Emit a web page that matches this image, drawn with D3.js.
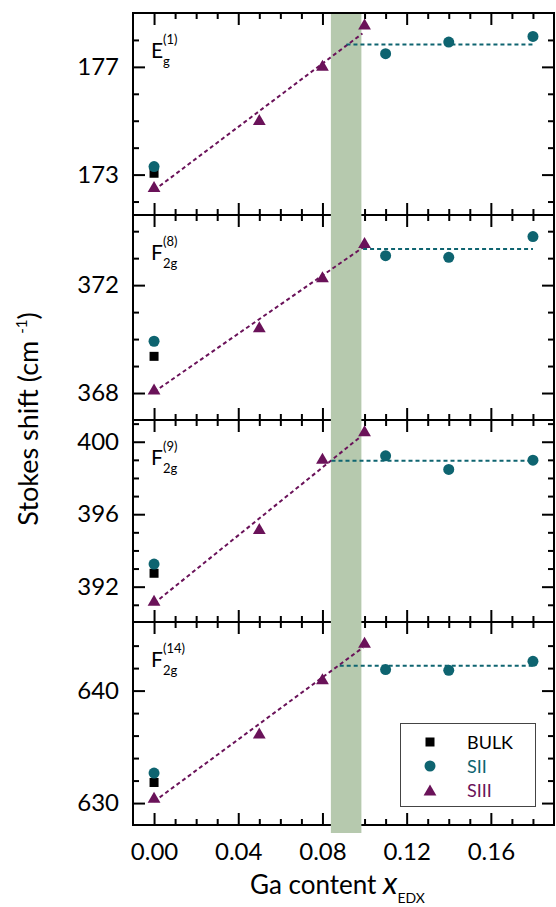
<!DOCTYPE html>
<html>
<head>
<meta charset="utf-8">
<script src="https://cdn.jsdelivr.net/npm/d3@7"></script>
<style>
  html, body { margin: 0; padding: 0; background: #fff; }
  svg { display: block; font-family: Lato, "Open Sans", sans-serif; }
</style>
</head>
<body>
<div id="chart"></div>
<script>
// =========================
// Stokes shift vs Ga content
// =========================

// -------------------------
// DATA
// -------------------------
const modeBase = ["E", "F", "F", "F"];
const modeSub = ["g", "2g", "2g", "2g"];
const modeSup = ["(1)", "(8)", "(9)", "(14)"];

const yDomains = [[171.5, 179], [367, 374.6], [390.05, 401.2], [628.05, 646.1]];
const yMajorTicks = [[173, 177], [368, 372], [392, 396, 400], [630, 640]];
const yMinorTicks = [
  [172, 174, 175, 176, 178],
  [369, 370, 371, 373, 374],
  [391, 393, 394, 395, 397, 398, 399, 401],
  [632, 634, 636, 638, 642, 644]
];

const xMajorTicks = [0, 0.04, 0.08, 0.12, 0.16];
const xMinorTicks = [0.01, 0.02, 0.03, 0.05, 0.06, 0.07, 0.09, 0.10, 0.11, 0.13, 0.14, 0.15, 0.17, 0.18];

const bulkX = [0];
const bulkY = [[173.05], [369.36], [392.74], [631.83]];

const siiX = [0, 0.11, 0.14, 0.18];
const siiY = [
  [173.3, 177.49, 177.92, 178.13],
  [369.92, 373.09, 373.03, 373.8],
  [393.25, 399.22, 398.47, 398.98],
  [632.67, 641.87, 641.8, 642.6]
];

const siiiX = [0, 0.05, 0.08, 0.10];
const siiiY = [
  [172.55, 175.04, 177.06, 178.59],
  [368.15, 370.45, 372.31, 373.58],
  [391.25, 395.2, 399.08, 400.6],
  [630.5, 636.22, 641.04, 644.3]
];

// fit lines: SII is flat, SIII is a straight line
const siiFitX = [[0.0914, 0.18], [0.0993, 0.18], [0.0843, 0.18], [0.0882, 0.18]];
const siiFitY = [177.83, 373.34, 398.95, 642.2];
const siiiFitX = [[0, 0.099], [0, 0.0993], [0, 0.0977], [0, 0.0993]];
const siiiFitY = [[172.42, 178.24], [368.04, 373.4], [391.08, 400.24], [630.14, 643.84]];

const bandX = [0.084, 0.0985];
const legendLabels = ["BULK", "SII", "SIII"];

// -------------------------
// LAYOUT / STYLE
// -------------------------
const W = 556, H = 907;
const left = 133, right = 554;
const panelTop = [13, 215, 420, 622];
const panelBottom = [215, 420, 622, 825];
const teal = "#0e6470";
const purple = "#6a1259";
const bandColor = "#b6c9ae";

const svg = d3.select("#chart").append("svg").attr("width", W).attr("height", H);
const x = d3.scaleLinear().domain([-0.01, 0.19]).range([left, right]);

const triPath = "M0,-5.6L6.4,5.4L-6.4,5.4Z";

function styleAxis(g) {
  g.select(".domain").remove();
  g.selectAll(".tick line").attr("stroke", "#000").attr("stroke-width", 2);
  g.selectAll("text").attr("fill", "#000").attr("font-family", "Lato, 'Open Sans', sans-serif");
}

// -------------------------
// PANELS: frames + ticks
// -------------------------
const yScales = yDomains.map((d, i) =>
  d3.scaleLinear().domain(d).range([panelBottom[i], panelTop[i]]));

yScales.forEach((y, i) => {
  const g = svg.append("g");
  const last = i === yScales.length - 1;

  g.append("g").attr("transform", `translate(${left},0)`)
    .call(d3.axisLeft(y).tickValues(yMajorTicks[i]).tickSize(-12).tickPadding(14).tickFormat(d3.format("d")))
    .call(styleAxis)
    .selectAll("text").attr("font-size", 24);
  g.append("g").attr("transform", `translate(${left},0)`)
    .call(d3.axisLeft(y).tickValues(yMinorTicks[i]).tickSize(-6).tickFormat(""))
    .call(styleAxis);
  g.append("g").attr("transform", `translate(${right},0)`)
    .call(d3.axisRight(y).tickValues(yMajorTicks[i]).tickSize(-12).tickFormat(""))
    .call(styleAxis);
  g.append("g").attr("transform", `translate(${right},0)`)
    .call(d3.axisRight(y).tickValues(yMinorTicks[i]).tickSize(-6).tickFormat(""))
    .call(styleAxis);

  g.append("g").attr("transform", `translate(0,${panelTop[i]})`)
    .call(d3.axisTop(x).tickValues(xMajorTicks).tickSize(-12).tickFormat(""))
    .call(styleAxis);
  g.append("g").attr("transform", `translate(0,${panelTop[i]})`)
    .call(d3.axisTop(x).tickValues(xMinorTicks).tickSize(-6).tickFormat(""))
    .call(styleAxis);
  g.append("g").attr("transform", `translate(0,${panelBottom[i]})`)
    .call(d3.axisBottom(x).tickValues(xMajorTicks).tickSize(-12).tickPadding(18)
      .tickFormat(last ? d3.format(".2f") : ""))
    .call(styleAxis)
    .selectAll("text").attr("font-size", 24);
  g.append("g").attr("transform", `translate(0,${panelBottom[i]})`)
    .call(d3.axisBottom(x).tickValues(xMinorTicks).tickSize(-6).tickFormat(""))
    .call(styleAxis);

  g.append("rect")
    .attr("x", left).attr("y", panelTop[i])
    .attr("width", right - left).attr("height", panelBottom[i] - panelTop[i])
    .attr("fill", "none").attr("stroke", "#000").attr("stroke-width", 2);

  // mode label
  const lx = 151, ly = panelTop[i] + 45;
  g.append("text").attr("x", lx).attr("y", ly).attr("font-size", 21).text(modeBase[i]);
  g.append("text").attr("x", lx + 12).attr("y", ly + 8).attr("font-size", 13).text(modeSub[i]);
  g.append("text").attr("x", lx + 12).attr("y", ly - 14).attr("font-size", 13).text(modeSup[i]);
});

// -------------------------
// BAND (drawn over frames)
// -------------------------
svg.append("rect")
  .attr("x", x(bandX[0])).attr("y", panelTop[0] + 1)
  .attr("width", x(bandX[1]) - x(bandX[0]))
  .attr("height", panelBottom[3] + 8 - panelTop[0] - 1)
  .attr("fill", bandColor);

// -------------------------
// FITS + MARKERS
// -------------------------
yScales.forEach((y, i) => {
  const g = svg.append("g");

  g.append("line")
    .attr("x1", x(siiiFitX[i][0])).attr("y1", y(siiiFitY[i][0]))
    .attr("x2", x(siiiFitX[i][1])).attr("y2", y(siiiFitY[i][1]))
    .attr("stroke", purple).attr("stroke-width", 2).attr("stroke-dasharray", "4,3");
  g.append("line")
    .attr("x1", x(siiFitX[i][0])).attr("y1", y(siiFitY[i]))
    .attr("x2", x(siiFitX[i][1])).attr("y2", y(siiFitY[i]))
    .attr("stroke", teal).attr("stroke-width", 2).attr("stroke-dasharray", "4,3");

  g.selectAll(".sq").data(bulkX.map((v, k) => [v, bulkY[i][k]])).enter().append("rect")
    .attr("x", d => x(d[0]) - 4.5).attr("y", d => y(d[1]) - 4.5)
    .attr("width", 9).attr("height", 9).attr("fill", "#000");
  g.selectAll(".ci").data(siiX.map((v, k) => [v, siiY[i][k]])).enter().append("circle")
    .attr("cx", d => x(d[0])).attr("cy", d => y(d[1])).attr("r", 5.5).attr("fill", teal);
  g.selectAll(".tr").data(siiiX.map((v, k) => [v, siiiY[i][k]])).enter().append("path")
    .attr("d", triPath)
    .attr("transform", d => `translate(${x(d[0])},${y(d[1])})`)
    .attr("fill", purple);
});

// -------------------------
// LEGEND
// -------------------------
const lg = svg.append("g");
lg.append("rect").attr("x", 400.5).attr("y", 723.5).attr("width", 135).attr("height", 83)
  .attr("fill", "#fff").attr("stroke", "#444").attr("stroke-width", 1);
const legendColors = ["#000", teal, purple];
legendLabels.forEach((t, k) => {
  const cy = 742 + k * 24;
  if (k === 0) lg.append("rect").attr("x", 430 - 4.5).attr("y", cy - 4.5).attr("width", 9).attr("height", 9).attr("fill", "#000");
  if (k === 1) lg.append("circle").attr("cx", 430).attr("cy", cy).attr("r", 5.5).attr("fill", teal);
  if (k === 2) lg.append("path").attr("d", triPath).attr("transform", `translate(430,${cy})`).attr("fill", purple);
  lg.append("text").attr("x", 467).attr("y", cy + 7).attr("font-size", 18)
    .attr("fill", legendColors[k]).text(t);
});

// -------------------------
// AXIS TITLES
// -------------------------
const xt = svg.append("text").attr("x", 250).attr("y", 894).attr("font-size", 26);
xt.append("tspan").text("Ga content ");
xt.append("tspan").attr("font-style", "italic").attr("font-size", 31).text("x");
xt.append("tspan").attr("font-size", 14).attr("dy", 9).text("EDX");

const yt = svg.append("text")
  .attr("transform", "translate(38,419) rotate(-90)")
  .attr("text-anchor", "middle").attr("font-size", 27);
yt.append("tspan").text("Stokes shift (cm ");
yt.append("tspan").attr("font-size", 15).attr("dy", -11).text("-1");
yt.append("tspan").attr("dy", 11).text(")");
</script>
</body>
</html>
